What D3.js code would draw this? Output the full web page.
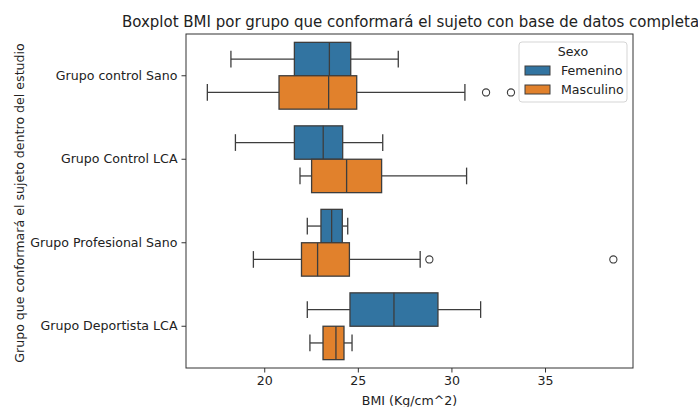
<!DOCTYPE html>
<html>
<head>
<meta charset="utf-8">
<script src="https://cdn.jsdelivr.net/npm/d3@7"></script>
<style>
  body { margin: 0; background: #fff; }
  text { font-family: "DejaVu Sans", sans-serif; fill: #222; }
</style>
</head>
<body>
<div id="chart"></div>
<script>
// grupos (eje Y) y sexo (hue)
const grupos = ["Grupo control Sano", "Grupo Control LCA", "Grupo Profesional Sano", "Grupo Deportista LCA"];
const sexos = ["Femenino", "Masculino"];
const colores = ["#3274a1", "#e1812c"];
const xTicks = [20, 25, 30, 35];

// estadisticos: [min bigote, Q1, mediana, Q3, max bigote]
const femenino = [
    [18.22, 21.61, 23.48, 24.62, 27.16],
    [18.46, 21.61, 23.15, 24.19, 26.33],
    [22.30, 23.03, 23.60, 24.17, 24.46],
    [22.30, 24.58, 26.93, 29.28, 31.56]
];
const masculino = [
    [16.96, 20.79, 23.44, 24.94, 30.72],
    [21.91, 22.53, 24.40, 26.27, 30.81],
    [19.42, 21.99, 22.85, 24.55, 28.33],
    [22.44, 23.14, 23.83, 24.26, 24.69]
];
const outFemenino = [[], [], [], []];
const outMasculino = [[31.85, 33.18], [], [28.82, 38.65], []];

const width = 698, height = 407;
const margin = {top: 34, right: 65, bottom: 39, left: 186};

const svg = d3.select("#chart")
    .append("svg")
    .attr("width", width)
    .attr("height", height);

const x = d3.scaleLinear()
    .domain([15.82, 39.70])
    .range([margin.left, width - margin.right]);

const y = d3.scaleBand()
    .domain(grupos)
    .range([margin.top, height - margin.bottom])
    .padding(0);

const hue = d3.scaleBand()
    .domain(sexos)
    .range([0.1 * y.bandwidth(), 0.9 * y.bandwidth()]);

const lineColor = "#3d3d3d";

// datos por caja
const cajas = [];
grupos.forEach((g, i) => {
    cajas.push({grupo: g, sexo: "Femenino", s: femenino[i], out: outFemenino[i]});
    cajas.push({grupo: g, sexo: "Masculino", s: masculino[i], out: outMasculino[i]});
});

const gBox = svg.append("g");

cajas.forEach(c => {
    const y0 = y(c.grupo) + hue(c.sexo);
    const h = hue.bandwidth();
    const yc = y0 + h / 2;
    const cap = h / 4;
    const [lo, q1, med, q3, hi] = c.s;
    const g = gBox.append("g")
        .attr("stroke", lineColor)
        .attr("stroke-width", 1.3);

    // bigotes
    g.append("line").attr("x1", x(lo)).attr("x2", x(q1)).attr("y1", yc).attr("y2", yc);
    g.append("line").attr("x1", x(q3)).attr("x2", x(hi)).attr("y1", yc).attr("y2", yc);
    g.append("line").attr("x1", x(lo)).attr("x2", x(lo)).attr("y1", yc - cap).attr("y2", yc + cap);
    g.append("line").attr("x1", x(hi)).attr("x2", x(hi)).attr("y1", yc - cap).attr("y2", yc + cap);

    // caja
    g.append("rect")
        .attr("x", x(q1))
        .attr("y", y0)
        .attr("width", x(q3) - x(q1))
        .attr("height", h)
        .attr("fill", colores[sexos.indexOf(c.sexo)]);

    // mediana
    g.append("line").attr("x1", x(med)).attr("x2", x(med)).attr("y1", y0).attr("y2", y0 + h);

    // atipicos
    g.selectAll("circle")
        .data(c.out)
        .join("circle")
        .attr("cx", d => x(d))
        .attr("cy", yc)
        .attr("r", 3.6)
        .attr("fill", "none")
        .attr("stroke-width", 1.1);
});

// ejes
const xAxis = d3.axisBottom(x).tickValues(xTicks).tickSize(4.5).tickPadding(4);
const yAxis = d3.axisLeft(y).tickSize(4.5).tickPadding(4);

const gX = svg.append("g")
    .attr("transform", `translate(0,${height - margin.bottom})`)
    .call(xAxis);
gX.select(".domain").remove();
gX.selectAll("line").attr("stroke", "#333");
gX.selectAll("text").style("font-size", "12.6px").attr("fill", "#222");

const gY = svg.append("g")
    .attr("transform", `translate(${margin.left},0)`)
    .call(yAxis);
gY.select(".domain").remove();
gY.selectAll("line").attr("stroke", "#333");
gY.selectAll("text").style("font-size", "12.6px").attr("fill", "#222");

// marco
svg.append("rect")
    .attr("x", margin.left)
    .attr("y", margin.top)
    .attr("width", width - margin.left - margin.right)
    .attr("height", height - margin.top - margin.bottom)
    .attr("fill", "none")
    .attr("stroke", "#333")
    .attr("stroke-width", 1);

// titulos
svg.append("text")
    .attr("x", (margin.left + width - margin.right) / 2 + 1)
    .attr("y", 27)
    .attr("text-anchor", "middle")
    .style("font-size", "15px")
    .text("Boxplot BMI por grupo que conformará el sujeto con base de datos completa");

svg.append("text")
    .attr("x", (margin.left + width - margin.right) / 2)
    .attr("y", 405)
    .attr("text-anchor", "middle")
    .style("font-size", "12.6px")
    .text("BMI (Kg/cm^2)");

svg.append("text")
    .attr("transform", `translate(24,${(margin.top + height - margin.bottom) / 2 + 2}) rotate(-90)`)
    .attr("text-anchor", "middle")
    .style("font-size", "12.6px")
    .text("Grupo que conformará el sujeto dentro del estudio");

// leyenda
const leg = svg.append("g").attr("transform", "translate(519,42)");
leg.append("rect")
    .attr("width", 108)
    .attr("height", 60)
    .attr("rx", 3)
    .attr("fill", "#fff")
    .attr("fill-opacity", 0.8)
    .attr("stroke", "#d5d5d5");
leg.append("text")
    .attr("x", 54)
    .attr("y", 14)
    .attr("text-anchor", "middle")
    .style("font-size", "12.6px")
    .text("Sexo");
sexos.forEach((s, i) => {
    const row = leg.append("g").attr("transform", `translate(6,${24 + i * 19})`);
    row.append("rect")
        .attr("width", 25)
        .attr("height", 9)
        .attr("fill", colores[i])
        .attr("stroke", lineColor)
        .attr("stroke-width", 1);
    row.append("text")
        .attr("x", 36)
        .attr("y", 9)
        .style("font-size", "12.6px")
        .text(s);
});
</script>
</body>
</html>
